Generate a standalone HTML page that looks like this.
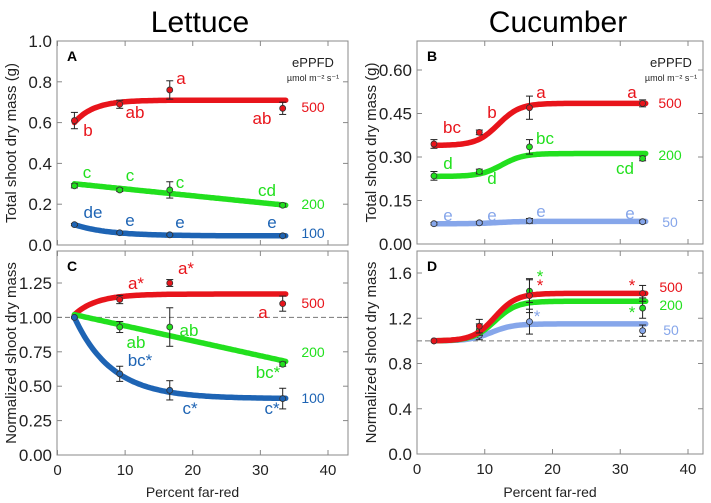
<!DOCTYPE html>
<html><head><meta charset="utf-8"><style>
html,body{margin:0;padding:0;background:#fff}
svg{display:block;font-family:"Liberation Sans",sans-serif}
</style></head><body>
<svg id="fig" width="711" height="503" viewBox="0 0 711 503" xmlns="http://www.w3.org/2000/svg">
<text x="200" y="32" font-size="30" text-anchor="middle">Lettuce</text>
<text x="558" y="32" font-size="30" text-anchor="middle">Cucumber</text>
</svg>
<script>
// ---- data ----
const xs = [2.5, 9.2, 16.6, 33.3];
const aRed = [0.61, 0.69, 0.76, 0.67], aRedErr = [0.04, 0.02, 0.045, 0.03];
const aGreen = [0.29, 0.27, 0.27, 0.195], aGreenErr = [0.01, 0.008, 0.04, 0.008];
const aBlue = [0.10, 0.06, 0.05, 0.045], aBlueErr = [0.005, 0.004, 0.004, 0.004];
const bRed = [0.345, 0.385, 0.47, 0.485], bRedErr = [0.015, 0.008, 0.04, 0.012];
const bGreen = [0.235, 0.25, 0.335, 0.295], bGreenErr = [0.015, 0.008, 0.025, 0.008];
const bBlue = [0.07, 0.073, 0.08, 0.077], bBlueErr = [0.004, 0.004, 0.008, 0.005];
const cRed = [1.0, 1.13, 1.25, 1.10], cRedErr = [0, 0.03, 0.025, 0.055];
const cGreen = [1.0, 0.93, 0.93, 0.66], cGreenErr = [0, 0.04, 0.14, 0.015];
const cBlue = [1.0, 0.59, 0.47, 0.41], cBlueErr = [0, 0.055, 0.07, 0.075];
const dRed = [1.0, 1.13, 1.40, 1.42], dRedErr = [0, 0.06, 0.15, 0.07];
const dGreen = [1.0, 1.10, 1.44, 1.29], dGreenErr = [0, 0.05, 0.10, 0.09];
const dBlue = [1.0, 1.05, 1.17, 1.09], dBlueErr = [0, 0.04, 0.11, 0.05];
// fit parameters [start, end, rate/mid, type]
const aFits = [[0.60, 0.71, 0.35, 'exp'], [0.30, 0.195, 0, 'lin'], [0.10, 0.045, 0.2, 'exp']];
const bFits = [[0.34, 0.485, 12, 'sig'], [0.233, 0.312, 12.5, 'sig'], [0.07, 0.078, 12, 'sig']];
const cFits = [[1.02, 1.17, 0.3, 'exp'], [1.02, 0.68, 0, 'lin'], [1.0, 0.41, 0.18, 'exp']];
const dFits = [[1.0, 1.42, 11.5, 'sig'], [1.0, 1.35, 11.5, 'sig'], [1.0, 1.15, 11, 'sig']];
const xTicks = [0, 10, 20, 30, 40];
const aTicks = [0, 0.2, 0.4, 0.6, 0.8, 1.0];
const bTicks = [0, 0.15, 0.30, 0.45, 0.60];
const cTicks = [0, 0.25, 0.5, 0.75, 1.0, 1.25];
const dTicks = [0, 0.4, 0.8, 1.2, 1.6];

const NS = 'http://www.w3.org/2000/svg';
const svg = document.getElementById('fig');
const RED = '#e8141b', GREEN = '#22e01e', BLUE = '#1e64b4', LBLUE = '#86a6ea';
function mk(tag, attrs, parent, text) {
  const e = document.createElementNS(NS, tag);
  for (const k in attrs) e.setAttribute(k, attrs[k]);
  if (text !== undefined) e.textContent = text;
  (parent || svg).appendChild(e);
  return e;
}
function fitVal(f, x) {
  const [s, e, p, t] = f;
  if (t === 'lin') return s + (e - s) * (x - 2.5) / (33.8 - 2.5);
  if (t === 'exp') return e + (s - e) * Math.exp(-p * (x - 2.5));
  return s + (e - s) / (1 + Math.exp(-(x - p) / 1.6));
}
function panel(cfg) {
  const g = mk('g', {});
  
  
  const sx = v => cfg.x0 + (v / 40) * (cfg.x40 - cfg.x0);
  const sy = v => cfg.yb - (v / cfg.ymax) * (cfg.yb - cfg.yt);
  const box = mk('rect', {x: cfg.L, y: cfg.T, width: cfg.R - cfg.L, height: cfg.B - cfg.T, fill: 'none', stroke: '#888', 'stroke-width': 1}, g);
  
  
  cfg.yticks.forEach(v => {
    mk('line', {x1: cfg.L, x2: cfg.L + 5, y1: sy(v), y2: sy(v), stroke: '#888'}, g);
    mk('line', {x1: cfg.R, x2: cfg.R - 5, y1: sy(v), y2: sy(v), stroke: '#888'}, g);
    const t = mk('text', {x: cfg.L - 5, y: sy(v) + 6, 'font-size': 17, 'text-anchor': 'end', fill: '#222'}, g, v.toFixed(cfg.dec));
    
    
  });
  xTicks.forEach(v => {
    mk('line', {x1: sx(v), x2: sx(v), y1: cfg.B, y2: cfg.B - 5, stroke: '#888'}, g);
    mk('line', {x1: sx(v), x2: sx(v), y1: cfg.T, y2: cfg.T + 5, stroke: '#888'}, g);
    if (cfg.xlabels) {
      const t = mk('text', {x: sx(v), y: cfg.B + 20, 'font-size': 15, 'text-anchor': 'middle', fill: '#222'}, g, String(v));
      
      
    }
  });
  if (cfg.dash !== undefined) {
    const d = mk('line', {x1: cfg.L, x2: cfg.R, y1: sy(cfg.dash), y2: sy(cfg.dash), stroke: '#777', 'stroke-dasharray': '5,3', 'stroke-width': 1}, g);
    
    
  }
  const yl = mk('text', {transform: `translate(${cfg.L - 41},${(cfg.T + cfg.B) / 2}) rotate(-90)`, 'font-size': 15, 'text-anchor': 'middle', fill: '#222'}, g, cfg.ytitle);
  
  
  if (cfg.xlabels) {
    const xl = mk('text', {x: (cfg.L + cfg.R) / 2 - 10, y: 497, 'font-size': 14, 'text-anchor': 'middle', fill: '#222'}, g, 'Percent far-red');
    
    
  }
  const pl = mk('text', {x: cfg.L + 10, y: cfg.T + 20, 'font-size': 14, 'font-weight': 'bold'}, g, cfg.letter);
  
  
  cfg.series.forEach((s, i) => {
    let d = '';
    for (let x = 2.5; x <= 33.81; x += 0.25) d += (d ? 'L' : 'M') + sx(x).toFixed(1) + ',' + sy(fitVal(s.fit, x)).toFixed(1);
    const c = mk('path', {d, fill: 'none', stroke: s.color, 'stroke-width': 5.5, 'stroke-linecap': 'round'}, g);
    
    
    s.vals.forEach((v, j) => {
      const e = s.err[j], x = sx(xs[j]);
      if (e > 0) {
        mk('line', {x1: x, x2: x, y1: sy(v - e), y2: sy(v + e), stroke: '#222', 'stroke-width': 1}, g);
        mk('line', {x1: x - 3.5, x2: x + 3.5, y1: sy(v - e), y2: sy(v - e), stroke: '#222'}, g);
        mk('line', {x1: x - 3.5, x2: x + 3.5, y1: sy(v + e), y2: sy(v + e), stroke: '#222'}, g);
      }
      const p = mk('circle', {cx: x, cy: sy(v), r: 3, fill: s.color, stroke: '#333', 'stroke-width': 0.8}, g);
      
      
    });
  });
  cfg.labels.forEach(l => {
    const t = mk('text', {x: l[0], y: l[1], fill: l[2], 'font-size': l[3] || 17, 'text-anchor': 'middle'}, g, l[4]);
    
    
  });
}
panel({name: 'panel-a', letter: 'A', L: 57, R: 348, T: 41, B: 245, x0: 57.5, x40: 328, yt: 41, yb: 245, ymax: 1.0, yticks: aTicks, dec: 1,
  ytitle: 'Total shoot dry mass (g)', xlabels: false,
  series: [{key: 'red', color: RED, vals: aRed, err: aRedErr, fit: aFits[0]}, {key: 'green', color: GREEN, vals: aGreen, err: aGreenErr, fit: aFits[1]}, {key: 'blue', color: BLUE, vals: aBlue, err: aBlueErr, fit: aFits[2]}],
  labels: [[313, 67, '#222', 13, 'ePPFD'], [313, 81, '#222', 9, 'µmol m⁻² s⁻¹'],
    [88, 136, RED, 17, 'b'], [135, 118, RED, 17, 'ab'], [181, 84, RED, 17, 'a'], [262, 124, RED, 17, 'ab'], [313, 112, RED, 14, '500'],
    [87, 178, GREEN, 17, 'c'], [130, 181, GREEN, 17, 'c'], [180, 188, GREEN, 17, 'c'], [267, 196, GREEN, 17, 'cd'], [313, 209, GREEN, 14, '200'],
    [93, 218, BLUE, 17, 'de'], [130, 226, BLUE, 17, 'e'], [180, 228, BLUE, 17, 'e'], [272, 228, BLUE, 17, 'e'], [313, 238, BLUE, 14, '100']]});
panel({name: 'panel-b', letter: 'B', L: 417, R: 703, T: 41, B: 244, x0: 417, x40: 688, yt: 70, yb: 244, ymax: 0.60, yticks: bTicks, dec: 2,
  ytitle: 'Total shoot dry mass (g)', xlabels: false,
  series: [{key: 'red', color: RED, vals: bRed, err: bRedErr, fit: bFits[0]}, {key: 'green', color: GREEN, vals: bGreen, err: bGreenErr, fit: bFits[1]}, {key: 'lightblue', color: LBLUE, vals: bBlue, err: bBlueErr, fit: bFits[2]}],
  labels: [[671, 67, '#222', 13, 'ePPFD'], [671, 81, '#222', 9, 'µmol m⁻² s⁻¹'],
    [452, 133, RED, 17, 'bc'], [492, 118, RED, 17, 'b'], [541, 98, RED, 17, 'a'], [632, 98, RED, 17, 'a'], [670, 108, RED, 14, '500'],
    [448, 169, GREEN, 17, 'd'], [492, 184, GREEN, 17, 'd'], [545, 144, GREEN, 17, 'bc'], [625, 174, GREEN, 17, 'cd'], [670, 160, GREEN, 14, '200'],
    [448, 221, LBLUE, 17, 'e'], [492, 221, LBLUE, 17, 'e'], [541, 217, LBLUE, 17, 'e'], [630, 219, LBLUE, 17, 'e'], [670, 227, LBLUE, 14, '50']]});
panel({name: 'panel-c', letter: 'C', L: 57, R: 348, T: 251, B: 455, x0: 57.5, x40: 328, yt: 283, yb: 455, ymax: 1.25, yticks: cTicks, dec: 2, dash: 1.0,
  ytitle: 'Normalized shoot dry mass', xlabels: true,
  series: [{key: 'red', color: RED, vals: cRed, err: cRedErr, fit: cFits[0]}, {key: 'green', color: GREEN, vals: cGreen, err: cGreenErr, fit: cFits[1]}, {key: 'blue', color: BLUE, vals: cBlue, err: cBlueErr, fit: cFits[2]}],
  labels: [[136, 289, RED, 17, 'a*'], [186, 274, RED, 17, 'a*'], [263, 318, RED, 17, 'a'], [313, 308, RED, 14, '500'],
    [189, 336, GREEN, 17, 'ab'], [136, 348, GREEN, 17, 'ab'], [268, 378, GREEN, 17, 'bc*'], [313, 357, GREEN, 14, '200'],
    [140, 366, BLUE, 17, 'bc*'], [190, 414, BLUE, 17, 'c*'], [272, 414, BLUE, 17, 'c*'], [313, 403, BLUE, 14, '100']]});
panel({name: 'panel-d', letter: 'D', L: 417, R: 703, T: 251, B: 454, x0: 417, x40: 688, yt: 273, yb: 454, ymax: 1.6, yticks: dTicks, dec: 1, dash: 1.0,
  ytitle: 'Normalized shoot dry mass', xlabels: true,
  series: [{key: 'lightblue', color: LBLUE, vals: dBlue, err: dBlueErr, fit: dFits[2]}, {key: 'green', color: GREEN, vals: dGreen, err: dGreenErr, fit: dFits[1]}, {key: 'red', color: RED, vals: dRed, err: dRedErr, fit: dFits[0]}],
  labels: [[540, 282, GREEN, 17, '*'], [540, 291, RED, 17, '*'], [537, 322, LBLUE, 17, '*'], [632, 291, RED, 17, '*'], [632, 318, GREEN, 17, '*'],
    [671, 292, RED, 14, '500'], [671, 310, GREEN, 14, '200'], [671, 335, LBLUE, 14, '50']]});
</script>
</body></html>
